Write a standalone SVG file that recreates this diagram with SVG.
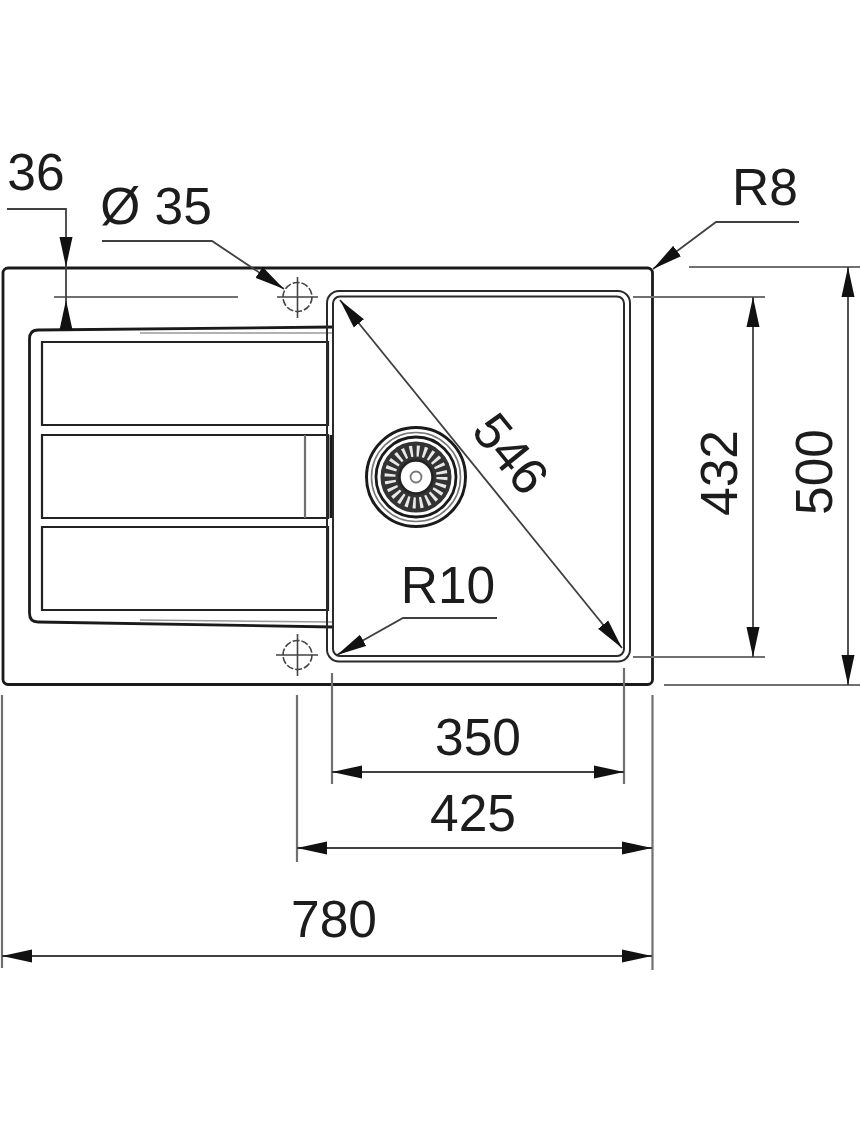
<svg xmlns="http://www.w3.org/2000/svg" width="860" height="1125" viewBox="0 0 860 1125">
<style>
.k{fill:none;stroke:#1a1a1a;stroke-width:2.8}
.b{fill:none;stroke:#2a2a2a;stroke-width:2}
.f{fill:none;stroke:#999;stroke-width:1.5}
.p{fill:#fff;stroke:#222;stroke-width:2.2}
.g{fill:none;stroke:#707070;stroke-width:2.2}
.d{fill:none;stroke:#404040;stroke-width:1.8}
.a{marker-end:url(#ah)}
.t{font-family:"Liberation Sans",Arial,sans-serif;font-size:51.500px;fill:#1c1c1c;text-anchor:middle}
.c{fill:none;stroke:#444;stroke-width:1.6}
</style>
<defs>
<marker id="ah" markerUnits="userSpaceOnUse" markerWidth="30" markerHeight="14" refX="30" refY="7" orient="auto-start-reverse" viewBox="0 0 30 14">
<path d="M0,0.500L30,7L0,13.500z" fill="#111"/>
</marker>
</defs>
<rect width="860" height="1125" fill="#fff"/>
<g id="sink">
<rect class="k" x="3" y="268" width="649.500" height="416.500" rx="5"/>
</g>
<g id="drainer">
<path class="k" d="M333,327L38,330Q29.500,330 29.500,339V613Q29.500,622 38,622L333,627"/>
<path class="f" d="M333,333H140M333,622L140,620"/>
<path class="p" d="M42,342H328V425H42z"/>
<path class="p" d="M42,435H328V518H42z"/>
<path class="p" d="M42,527H328V610H42z"/>
<path class="g" d="M305,435V518"/>
<path class="k" d="M331,435V518"/>
</g>
<g id="bowl">
<rect class="b" x="327" y="291" width="303" height="370.500" rx="12"/>
<rect class="b" x="333" y="296.500" width="291" height="359.500" rx="7"/>
</g>
<g id="strainer">
<circle class="k" cx="416" cy="477" r="49.500" style="stroke-width:3"/>
<circle class="c" cx="416" cy="477" r="44.500" style="stroke:#777"/>
<circle class="k" cx="416" cy="477" r="40"/>
<circle cx="416" cy="477" r="26" fill="none" stroke="#333" stroke-width="19"/>
<circle cx="416" cy="477" r="26" fill="none" stroke="#e8e8e8" stroke-width="11" stroke-dasharray="2.800 4"/>
<circle cx="416" cy="477" r="16.500" fill="#fff" stroke="#222" stroke-width="2.500"/>
<circle cx="416" cy="477" r="5.500" fill="none" stroke="#777" stroke-width="1.800"/>
</g>
<g id="hole-top">
<circle class="c" cx="297.500" cy="297" r="14.500" stroke-dasharray="7 2"/>
<path class="c" d="M277,297H318M297.500,277V318"/>
</g>
<g id="hole-bottom">
<circle class="c" cx="297.500" cy="655" r="14.500" stroke-dasharray="7 2"/>
<path class="c" d="M276,655H318M297.500,634V676"/>
</g>
<g id="connectors">
<path class="g" d="M54,297H238"/>
<path class="g" d="M633,297H765M633,657H765M689,267H860M664,685H860"/>
<path class="g" d="M332,673V784M624,668V784M297,695V862M652.500,695V970M2,695V968"/>
<path class="d a" d="M7,209H66V267"/>
<path class="d" d="M66,267V300"/>
<path class="d a" d="M66,330V300"/>
<path class="d a" d="M102,241H212L284,289"/>
<path class="d a" d="M799,222H716L653,269"/>
<path class="d a" d="M497,618H403L337,655"/>
<path class="d a" d="M340,300L622,648" style="marker-start:url(#ah)"/>
<path class="d a" d="M753,297V657" style="marker-start:url(#ah)"/>
<path class="d a" d="M848,267V685" style="marker-start:url(#ah)"/>
<path class="d a" d="M332,772H624" style="marker-start:url(#ah)"/>
<path class="d a" d="M297,848H652" style="marker-start:url(#ah)"/>
<path class="d a" d="M2,956H652" style="marker-start:url(#ah)"/>
</g>
<g id="labels">
<text class="t" x="36" y="190">36</text>
<text class="t" x="156" y="224">Ø 35</text>
<text class="t" x="765" y="205">R8</text>
<text class="t" x="448" y="603">R10</text>
<text class="t" x="478" y="755">350</text>
<text class="t" x="473" y="831">425</text>
<text class="t" x="334" y="937">780</text>
<text class="t" transform="translate(737,473) rotate(-90)">432</text>
<text class="t" transform="translate(832,472) rotate(-90)">500</text>
<text class="t" transform="translate(497,465) rotate(51)">546</text>
</g>
</svg>
